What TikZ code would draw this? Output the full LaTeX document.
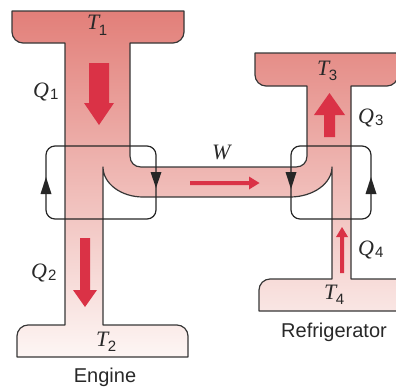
\documentclass[tikz,border=0pt]{standalone}
\usepackage{fontspec}
\newfontfamily\labelsans{Liberation Sans}
\newfontfamily\serifit{Liberation Serif Italic}
\usetikzlibrary{arrows.meta}
\definecolor{pipetop}{RGB}{226,127,121}
\definecolor{pipebot}{RGB}{253,246,244}
\definecolor{edgegray}{RGB}{55,55,55}
\definecolor{arrowred}{RGB}{218,50,70}
\definecolor{txt}{RGB}{40,40,40}
\newcommand\lbl[4]{{\serifit\fontsize{22}{22}\selectfont #1}\kern#4\raisebox{-#3}{\labelsans\fontsize{15}{15}\selectfont #2}}
\tikzset{
  pipeedge/.style={draw=edgegray, line width=1.2pt, line join=round},
  loopline/.style={draw=black!85, line width=1.2pt, rounded corners=9pt},
  looptip/.style={fill=black!85},
  redarrow/.style={fill=arrowred},
  mathlabel/.style={text=txt, inner sep=0pt, anchor=base west},
  caption/.style={text=txt, inner sep=0pt, font=\labelsans\fontsize{20}{20}\selectfont},
}
\begin{document}
\begin{tikzpicture}[x=1pt,y=-1pt]
\useasboundingbox (0,0) rectangle (396,388);
\clip (0,0) rectangle (396,388);
% pipe network (one closed outline)
\def\pipepath{(12,11) -- (184,11) -- (184,32) .. controls (184,38) and (179,43) .. (173,43)
 -- (130,43) -- (130,156) .. controls (130,162.5) and (134.5,167) .. (141,167)
 -- (296,167) .. controls (302.5,167) and (307,162.5) .. (307,156)
 -- (307,86) -- (266,86) .. controls (260,86) and (255,81) .. (255,75)
 -- (255,53) -- (398,53) -- (398,75) .. controls (398,81) and (393,86) .. (387,86)
 -- (351,86) -- (351,279) -- (402,279) -- (402,311) -- (259,311)
 -- (259,290) .. controls (259,284) and (264,279) .. (270,279)
 -- (332,279) -- (332,167) .. controls (332,183.5) and (313,197) .. (290,197)
 -- (143,197) .. controls (121,197) and (103,183.5) .. (103,167)
 -- (103,325) -- (177,325) .. controls (183,325) and (188,330) .. (188,336)
 -- (188,357) -- (17,357) -- (17,336) .. controls (17,330) and (22,325) .. (28,325)
 -- (65,325) -- (65,43) -- (23,43) .. controls (17,43) and (12,38) .. (12,32) -- cycle}
\shade[top color=pipetop, bottom color=pipebot] \pipepath;
\path[pipeedge] \pipepath;
% red flow arrows
\fill[redarrow] (89,63) -- (109,63) -- (109,103) -- (114,103) -- (99,125) -- (84,103) -- (89,103) -- cycle;
\fill[redarrow] (80,238) -- (90,238) -- (90,290) -- (97,290) -- (85,307) -- (73,290) -- (80,290) -- cycle;
\fill[redarrow] (190,181) -- (249,181) -- (249,176.5) -- (259.5,183) -- (249,189.5) -- (249,185) -- (190,185) -- cycle;
\fill[redarrow] (324,137) -- (335,137) -- (335,115) -- (345,115) -- (329.5,93) -- (314,115) -- (324,115) -- cycle;
\fill[redarrow] (340,273) -- (344,273) -- (344,237) -- (348,237) -- (342,227) -- (336,237) -- (340,237) -- cycle;
% cycle loops
\path[loopline] (46,146) rectangle (156,219);
\path[loopline] (291,146) rectangle (371,219);
\fill[looptip] (46,177) -- (51.5,194) -- (40.5,194) -- cycle;
\fill[looptip] (156,188) -- (161.5,172) -- (150.5,172) -- cycle;
\fill[looptip] (291,189) -- (296.5,172) -- (285.5,172) -- cycle;
\fill[looptip] (371,177) -- (376.5,194) -- (365.5,194) -- cycle;
% labels
\node[mathlabel] (t1) at (87,29) {\lbl{T}{1}{6pt}{-0.5pt}};
\node[mathlabel] (q1) at (33,97) {\lbl{Q}{1}{2.5pt}{1pt}};
\node[mathlabel] (q2) at (31,278) {\lbl{Q}{2}{2.5pt}{1pt}};
\node[mathlabel] (t2) at (96,346) {\lbl{T}{2}{5.5pt}{-0.5pt}};
\node[mathlabel] (w) at (212,159) {{\serifit\fontsize{22}{22}\selectfont W}};
\node[mathlabel] (t3) at (317,75) {\lbl{T}{3}{5.5pt}{-0.5pt}};
\node[mathlabel] (q3) at (358,123) {\lbl{Q}{3}{2.5pt}{1pt}};
\node[mathlabel] (q4) at (358,255) {\lbl{Q}{4}{2.5pt}{1pt}};
\node[mathlabel] (t4) at (324,299) {\lbl{T}{4}{5.5pt}{-0.5pt}};
\node[caption] (eng) at (105,377) {Engine};
\node[caption] (ref) at (334,332) {Refrigerator};
\end{tikzpicture}
\end{document}
